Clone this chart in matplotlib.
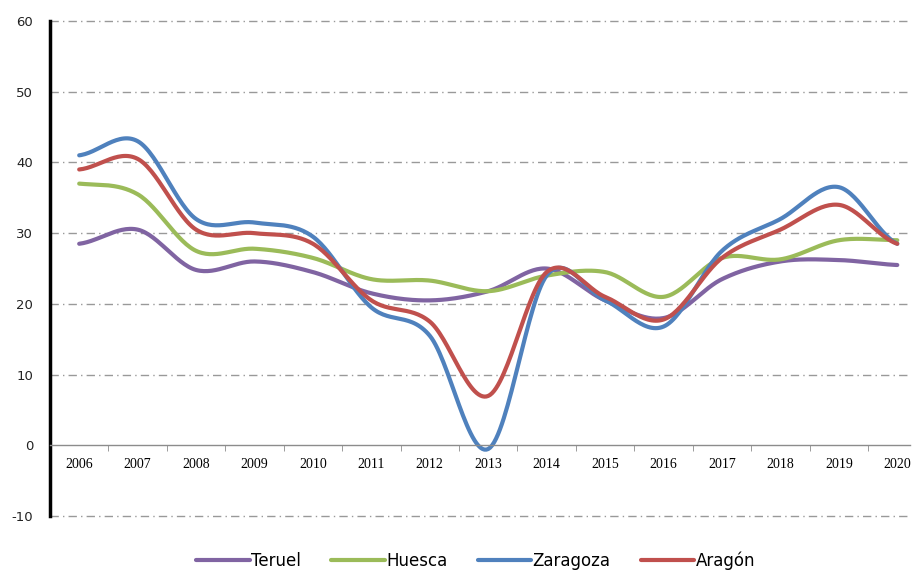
import matplotlib
matplotlib.use("Agg")
import matplotlib.pyplot as plt
import numpy as np

plt.rcParams["axes.unicode_minus"] = False

# values
years = ["2006", "2007", "2008", "2009", "2010", "2011", "2012", "2013",
         "2014", "2015", "2016", "2017", "2018", "2019", "2020"]
teruel = [28.5, 30.5, 24.8, 26.0, 24.5, 21.5, 20.5, 21.8, 25.0, 20.5, 18.0, 23.5, 26.0, 26.2, 25.5]
huesca = [37.0, 35.5, 27.5, 27.8, 26.5, 23.5, 23.3, 21.8, 24.0, 24.5, 21.0, 26.5, 26.3, 29.0, 29.0]
zaragoza = [41.0, 43.0, 32.0, 31.5, 29.5, 19.5, 15.5, -0.5, 24.0, 20.5, 16.8, 27.5, 32.0, 36.5, 28.5]
aragon = [39.0, 40.5, 30.5, 30.0, 28.5, 20.5, 17.5, 7.0, 24.5, 21.0, 17.8, 26.5, 30.5, 34.0, 28.5]

series = [("Teruel", teruel, "#8064A2"),
          ("Huesca", huesca, "#9BBB59"),
          ("Zaragoza", zaragoza, "#4F81BD"),
          ("Aragón", aragon, "#C0504D")]


def smooth(y, n=30):
    # Catmull-Rom style smoothing, like a spreadsheet "smoothed line"
    y = np.asarray(y, dtype=float)
    x = np.arange(len(y), dtype=float)
    p = np.concatenate([[y[0]], y, [y[-1]]])
    xs, ys = [], []
    t = np.linspace(0, 1, n, endpoint=False)
    for i in range(len(y) - 1):
        p0, p1, p2, p3 = p[i], p[i + 1], p[i + 2], p[i + 3]
        m1 = (p2 - p0) / 2
        m2 = (p3 - p1) / 2
        h00 = 2 * t**3 - 3 * t**2 + 1
        h10 = t**3 - 2 * t**2 + t
        h01 = -2 * t**3 + 3 * t**2
        h11 = t**3 - t**2
        xs.append(x[i] + t)
        ys.append(h00 * p1 + h10 * m1 + h01 * p2 + h11 * m2)
    xs.append([x[-1]])
    ys.append([y[-1]])
    return np.concatenate(xs), np.concatenate(ys)


fig = plt.figure(figsize=(9.17, 5.8), dpi=100)
ax = fig.add_axes([0.0545, 0.11, 0.938, 0.854])

for name, vals, col in series:
    xs, ys = smooth(vals)
    ax.plot(xs, ys, color=col, lw=3.0, label=name, solid_capstyle="round")

ax.set_xlim(-0.5, 14.22)
ax.set_ylim(-10, 60)
ax.set_yticks(range(-10, 61, 10))
ax.tick_params(axis="y", length=0, labelsize=9.5, pad=12, labelcolor="#222222")

# category axis sits on y = 0
ax.spines["bottom"].set_position(("data", 0))
ax.spines["bottom"].set_color("#8c8c8c")
ax.spines["bottom"].set_linewidth(1.0)
ax.spines["top"].set_visible(False)
ax.spines["right"].set_visible(False)
ax.spines["left"].set_linewidth(2.5)
ax.spines["left"].set_color("black")

ax.set_xticks(range(len(years)))
ax.set_xticklabels(years, family="Liberation Serif", fontsize=10)
ax.set_xticks(np.arange(0.5, len(years) - 0.5, 1), minor=True)
ax.tick_params(axis="x", which="major", length=0, pad=9)
ax.tick_params(axis="x", which="minor", length=4, color="#8c8c8c")

for v in [-10, 10, 20, 30, 40, 50, 60]:
    ax.axhline(v, color="#999999", lw=1.0, ls=(0, (6, 3, 1, 3)), zorder=0, clip_on=False)

leg = ax.legend(loc="center", bbox_to_anchor=(0.495, -0.09), ncol=4,
                frameon=False, handlelength=3.2, handletextpad=0.1,
                columnspacing=1.8, prop={"family": ["Liberation Sans Narrow", "DejaVu Sans"], "size": 12})

fig.savefig("out.png", dpi=100)
